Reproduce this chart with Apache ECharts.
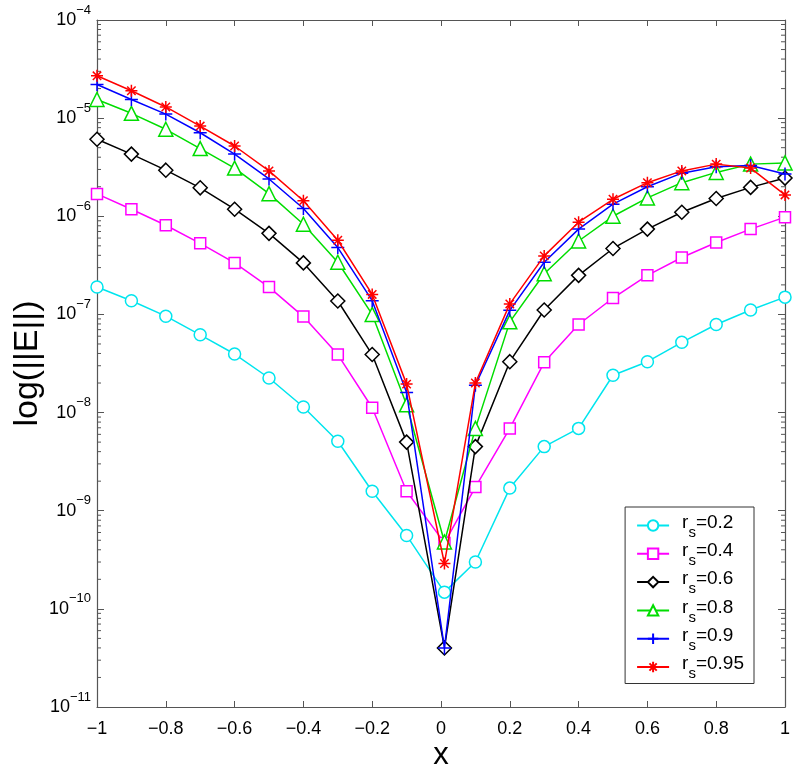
<!DOCTYPE html>
<html><head><meta charset="utf-8">
<script src="https://cdn.jsdelivr.net/npm/echarts@6/dist/echarts.min.js"></script>
<style>html,body{margin:0;padding:0;background:#fff;overflow:hidden}#c{width:800px;height:774px}</style>
</head><body><div id="c"></div>
<script>
const xs = [-1,-0.9,-0.8,-0.7,-0.6,-0.5,-0.4,-0.3,-0.2,-0.1,0.01,0.1,0.2,0.3,0.4,0.5,0.6,0.7,0.8,0.9,1];
const names = ['0.2','0.4','0.6','0.8','0.9','0.95'];
const r02 = [1.9e-7,1.38e-7,9.6e-8,6.2e-8,3.95e-8,2.25e-8,1.14e-8,5.1e-9,1.58e-9,5.6e-10,1.48e-10,3.0e-10,1.7e-9,4.5e-9,6.9e-9,2.4e-8,3.3e-8,5.2e-8,7.9e-8,1.11e-7,1.5e-7];
const r04 = [1.69e-6,1.18e-6,8.1e-7,5.3e-7,3.35e-7,1.9e-7,9.5e-8,3.9e-8,1.12e-8,1.58e-9,4.7e-10,1.74e-9,6.9e-9,3.25e-8,7.9e-8,1.47e-7,2.5e-7,3.8e-7,5.4e-7,7.4e-7,9.8e-7];
const r06 = [6.1e-6,4.3e-6,2.95e-6,1.95e-6,1.18e-6,6.7e-7,3.35e-7,1.37e-7,3.9e-8,5.0e-9,4.0e-11,4.5e-9,3.3e-8,1.11e-7,2.5e-7,4.7e-7,7.4e-7,1.1e-6,1.52e-6,1.97e-6,2.45e-6];
const r08 = [1.55e-5,1.12e-5,7.7e-6,4.9e-6,3.1e-6,1.7e-6,8.3e-7,3.4e-7,1.0e-7,1.2e-8,4.8e-10,6.9e-9,8.4e-8,2.6e-7,5.6e-7,1.0e-6,1.54e-6,2.2e-6,2.8e-6,3.4e-6,3.5e-6];
const r09 = [2.2e-5,1.55e-5,1.1e-5,7.1e-6,4.3e-6,2.4e-6,1.2e-6,4.8e-7,1.38e-7,1.6e-8,4.0e-11,1.9e-8,1.1e-7,3.4e-7,7.4e-7,1.33e-6,2.0e-6,2.75e-6,3.2e-6,3.3e-6,2.7e-6];
const r095 = [2.7e-5,1.9e-5,1.3e-5,8.3e-6,5.2e-6,2.9e-6,1.44e-6,5.7e-7,1.6e-7,1.95e-8,2.9e-10,2.0e-8,1.28e-7,3.95e-7,8.7e-7,1.49e-6,2.2e-6,2.9e-6,3.4e-6,3.1e-6,1.65e-6];
const seriesVals = [r02,r04,r06,r08,r09,r095];
const colors = ['#00e5ee','#ff00ff','#000000','#00dd00','#0000ff','#ff0000'];
const symbols = ['circle','rect',
  'path://M0,-1L1,0L0,1L-1,0Z',
  'triangle',
  'path://M0,-1L0,1M-1,0L1,0',
  'path://M0,-1L0,1M-1,0L1,0M-0.7,-0.7L0.7,0.7M-0.7,0.7L0.7,-0.7'];
const symSizes = [12,11,14,14,13,12];
const symFill = ['#fff','#fff','#fff','#fff','transparent','transparent'];
const minorVals = [];
for (let e=-11; e<-4; e++) for (let m=2; m<=9; m++) minorVals.push(m*Math.pow(10,e));

const FONT = 'Liberation Sans, Arial, Helvetica, sans-serif';
const axisCol = '#555';
function yFmt(v){ const e = Math.round(Math.log10(v)); return '{b|10}{e|' + String(e).replace('-','−') + '}'; }
function xFmt(v){ const r = Math.round(v*10)/10; return String(r).replace('-','−'); }

const series = seriesVals.map((vals,i)=>({
  name: names[i], type:'line', data: xs.map((x,j)=>[x, vals[j]]),
  symbol: symbols[i], symbolSize: symSizes[i], showSymbol:true,
  lineStyle:{color:colors[i], width:1.5},
  itemStyle:{color: symFill[i], borderColor:colors[i], borderWidth:1.5},
  color: colors[i], z: 3+i, animation:false
}));
series.push({
  type:'custom', silent:true, animation:false, z:1,
  data: minorVals.map(v=>[-1,v]),
  renderItem: function(params, api){
    const cs = params.coordSys;
    const p = api.coord([-1, api.value(1)]);
    const st = {stroke: axisCol, lineWidth:1};
    return {type:'group', children:[
      {type:'line', shape:{x1:cs.x, y1:p[1], x2:cs.x+4, y2:p[1]}, style:st},
      {type:'line', shape:{x1:cs.x+cs.width, y1:p[1], x2:cs.x+cs.width-4, y2:p[1]}, style:st}
    ]};
  }
});

const chart = echarts.init(document.getElementById('c'), null, {renderer:'canvas', width:800, height:774});
chart.setOption({
  animation:false,
  backgroundColor:'#fff',
  textStyle:{fontFamily:FONT},
  grid:{left:97, right:15, top:20, bottom:67, containLabel:false, outerBoundsMode:'none'},
  xAxis:[
    {type:'value', min:-1, max:1, interval:0.2, position:'bottom',
     name:'x', nameLocation:'middle', nameGap:33, nameMoveOverlap:false,
     nameTextStyle:{fontSize:31, color:'#000', fontFamily:FONT},
     axisLine:{onZero:false, lineStyle:{color:axisCol, width:1.2}},
     axisTick:{inside:true, length:6, lineStyle:{color:axisCol}},
     axisLabel:{formatter:xFmt, fontSize:18, color:'#000', margin:13, fontFamily:FONT},
     splitLine:{show:false}},
    {type:'value', min:-1, max:1, interval:0.2, position:'top',
     axisLine:{onZero:false, lineStyle:{color:axisCol, width:1.2}},
     axisTick:{inside:true, length:6, lineStyle:{color:axisCol}},
     axisLabel:{show:false}, splitLine:{show:false}}
  ],
  yAxis:[
    {type:'log', logBase:10, min:1e-11, max:1e-4, position:'left',
     name:'log(||E||)', nameLocation:'middle', nameGap:52, nameRotate:90, nameMoveOverlap:false,
     nameTextStyle:{fontSize:34, color:'#000', fontFamily:FONT},
     axisLine:{onZero:false, lineStyle:{color:axisCol, width:1.2}},
     axisTick:{inside:true, length:7, lineStyle:{color:axisCol}},
     axisLabel:{formatter:yFmt, margin:6, color:'#000',
       rich:{b:{fontSize:18, lineHeight:19, fontFamily:FONT, color:'#000'},
             e:{fontSize:13, lineHeight:13, fontFamily:FONT, color:'#000', padding:[0,0,20,0]}}},
     splitLine:{show:false}},
    {type:'log', logBase:10, min:1e-11, max:1e-4, position:'right',
     axisLine:{onZero:false, lineStyle:{color:axisCol, width:1.2}},
     axisTick:{inside:true, length:7, lineStyle:{color:axisCol}},
     axisLabel:{show:false}, splitLine:{show:false}}
  ],
  legend:{
    orient:'vertical', right:46, top:507, backgroundColor:'#fff',
    borderColor:'#333', borderWidth:1, padding:[4,10,2,11], itemGap:-0.7,
    itemWidth:32, itemHeight:13,
    data: names,
    formatter: n => '{g| }{a|r}{s|s}{a|=' + n + '}',
    textStyle:{fontFamily:FONT, rich:{
      g:{width:8, fontSize:19, lineHeight:20},
      a:{fontSize:19, lineHeight:20, color:'#000', fontFamily:FONT, padding:[0,0,6,0]},
      s:{fontSize:15, lineHeight:15, color:'#000', fontFamily:FONT, padding:[14,0,0,0]}}}
  },
  series: series
});
</script></body></html>
